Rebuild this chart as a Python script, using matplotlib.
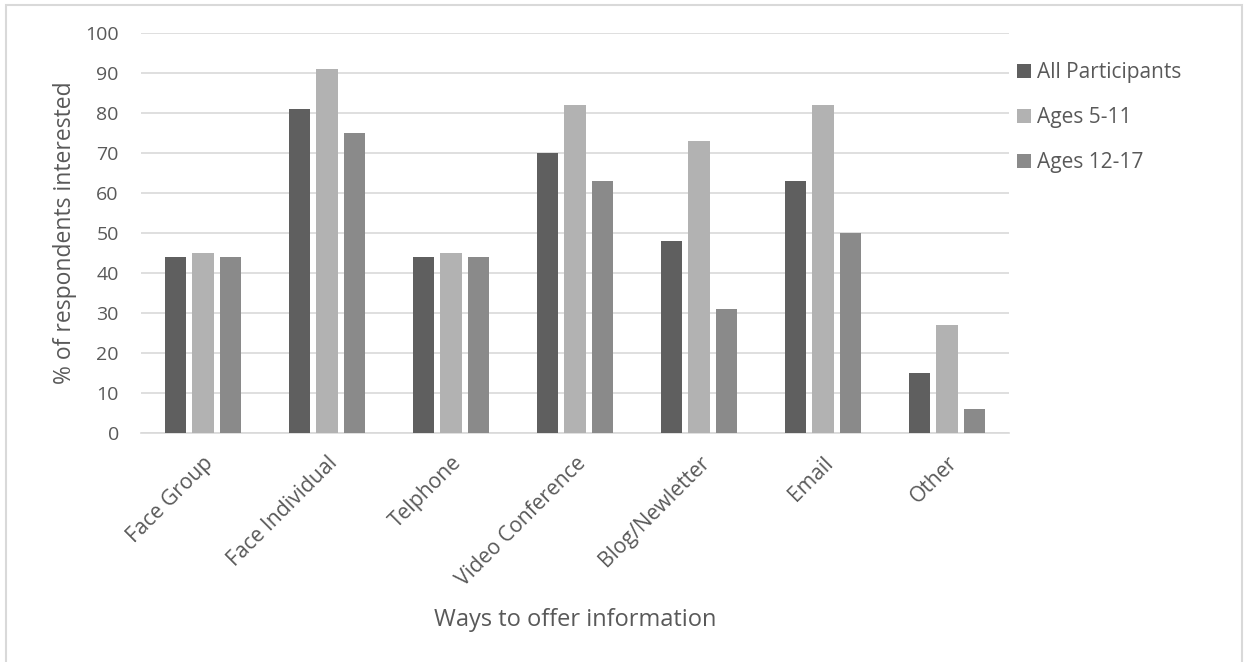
import numpy as np
import matplotlib
matplotlib.use('Agg')
import matplotlib.pyplot as plt
from matplotlib.patches import Rectangle

# data
categories = ['Face Group', 'Face Individual', 'Telphone', 'Video Conference',
              'Blog/Newletter', 'Email', 'Other']
all_participants = [44, 81, 44, 70, 48, 63, 15]
ages_5_11 = [45, 91, 45, 82, 73, 82, 27]
ages_12_17 = [44, 75, 44, 63, 31, 50, 6]
series_names = ['All Participants', 'Ages 5-11', 'Ages 12-17']
colors = ['#5f5f5f', '#b2b2b2', '#8a8a8a']
text_color = '#595959'

plt.rcParams['font.family'] = ['Open Sans', 'DejaVu Sans']

fig = plt.figure(figsize=(12.49, 6.62), dpi=100)
ax = fig.add_axes([141 / 1249, 1 - 433 / 662, 868 / 1249, 400 / 662])

x = np.arange(len(categories))
step = 0.222
width = 0.173
for i, (vals, name, c) in enumerate(zip([all_participants, ages_5_11, ages_12_17],
                                        series_names, colors)):
    ax.bar(x + (i - 1) * step, vals, width, color=c, label=name, zorder=3)

ax.set_xlim(-0.5, len(categories) - 0.5)
ax.set_ylim(0, 100)
ax.set_yticks(np.arange(0, 101, 10))
ax.yaxis.grid(True, color='#d9d9d9', linewidth=1.2, zorder=0)
ax.set_axisbelow(True)
for s in ['top', 'right', 'left']:
    ax.spines[s].set_visible(False)
ax.spines['bottom'].set_color('#d9d9d9')
ax.spines['bottom'].set_linewidth(1.2)
ax.tick_params(axis='y', length=0, labelsize=14, colors=text_color, pad=16)
ax.tick_params(axis='x', length=0, labelsize=15.2, colors=text_color, pad=14)
ax.set_xticks(x)
ax.set_xticklabels(categories, rotation=45, ha='right', rotation_mode='anchor')

ax.set_ylabel('% of respondents interested', fontsize=16.5, color=text_color, labelpad=6)
fig.text(575 / 1249, 1 - 620 / 662, 'Ways to offer information', fontsize=17,
         color=text_color, ha='center', va='center')

leg = ax.legend(loc='upper left', bbox_to_anchor=(1.0, 0.948), frameon=False,
                fontsize=15, labelcolor=text_color, handlelength=0.65,
                handleheight=0.65, handletextpad=0.3, labelspacing=1.15,
                borderaxespad=0.0)

# light frame around the chart, bottom edge runs past the image
fig.patches.append(Rectangle((6 / 1249, -0.05), 1236 / 1249, 1.05 - 5 / 662,
                             transform=fig.transFigure, fill=False,
                             edgecolor='#d9d9d9', linewidth=1.5))

fig.savefig('out.png', dpi=100, facecolor='white')
